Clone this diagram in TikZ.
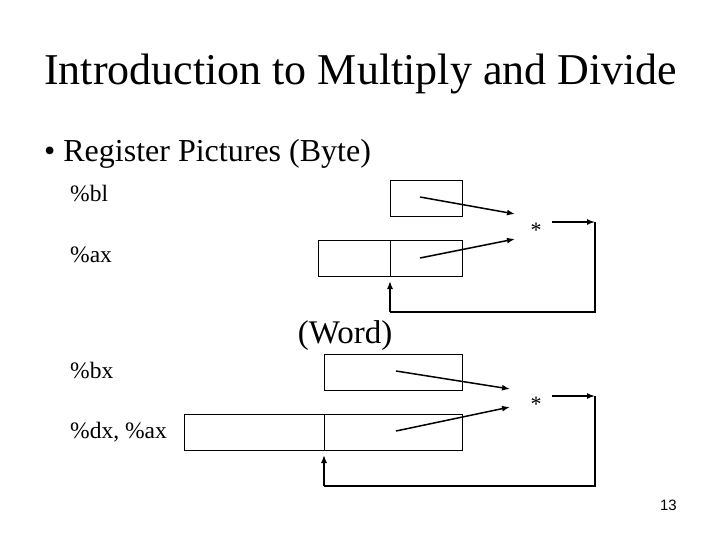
\documentclass[tikz,border=0pt]{standalone}
\usetikzlibrary{arrows.meta}
\usepackage{fontspec}
\setmainfont{Liberation Serif}
\newfontfamily\sansf{Liberation Sans}
\begin{document}
\begin{tikzpicture}[x=1pt,y=-1pt,
  reg/.style={draw,line width=0.8pt},
  flow/.style={line width=1.5pt,-{Latex[length=8pt,width=6pt]}},
  lbl/.style={anchor=base west,inner sep=0,font=\fontsize{23.5}{26}\selectfont}]
\useasboundingbox (0,0) rectangle (720,540);
\node[anchor=base west,inner sep=0,font=\fontsize{44}{48}\selectfont] (title) at (44,85) {Introduction to Multiply and Divide};
\node[anchor=base west,inner sep=0,font=\fontsize{32}{36}\selectfont] (bul) at (44,162) {\textbullet\ Register Pictures (Byte)};
\node[lbl] (lbl1) at (70,202) {\%bl};
\node[lbl] (lbl2) at (70,262) {\%ax};
\node[anchor=base,inner sep=0,font=\fontsize{33}{36}\selectfont] (word) at (345,343) {(Word)};
\node[lbl] (lbl3) at (70,378) {\%bx};
\node[lbl] (lbl4) at (70,438) {\%dx, \%ax};
\node[anchor=base east,inner sep=0,font=\sansf\fontsize{15}{17}\selectfont] (pg) at (677,510) {13};
% byte
\draw[reg] (390,180) rectangle (462,216);
\draw[reg] (318,240) rectangle (462,276);
\draw[reg] (390,240) -- (390,276);
\coordinate (a1) at (420,197); \coordinate (a2) at (420,258);
\node[font=\fontsize{22}{24}\selectfont,inner sep=1pt] (s1) at (536,230) {*};
\draw[flow] (a1) -- (515,214);
\draw[flow] (a2) -- (515,239);
\coordinate (r1) at (595,222);
\draw[flow] (552,222) -- (r1);
\draw[line width=1.5pt] (r1) -- (595,312) -- (390,312);
\draw[flow] (390,312) -- (390,281);
% word
\draw[reg] (324,354) rectangle (462,390);
\draw[reg] (184,414) rectangle (462,450);
\draw[reg] (324,414) -- (324,450);
\coordinate (b1) at (396,371); \coordinate (b2) at (396,431);
\node[font=\fontsize{22}{24}\selectfont,inner sep=1pt] (s2) at (536,404) {*};
\draw[flow] (b1) -- (510,389);
\draw[flow] (b2) -- (510,407);
\coordinate (r2) at (595,396);
\draw[flow] (552,396) -- (r2);
\draw[line width=1.5pt] (r2) -- (595,486) -- (324,486);
\draw[flow] (324,486) -- (324,455);
\end{tikzpicture}
\end{document}
